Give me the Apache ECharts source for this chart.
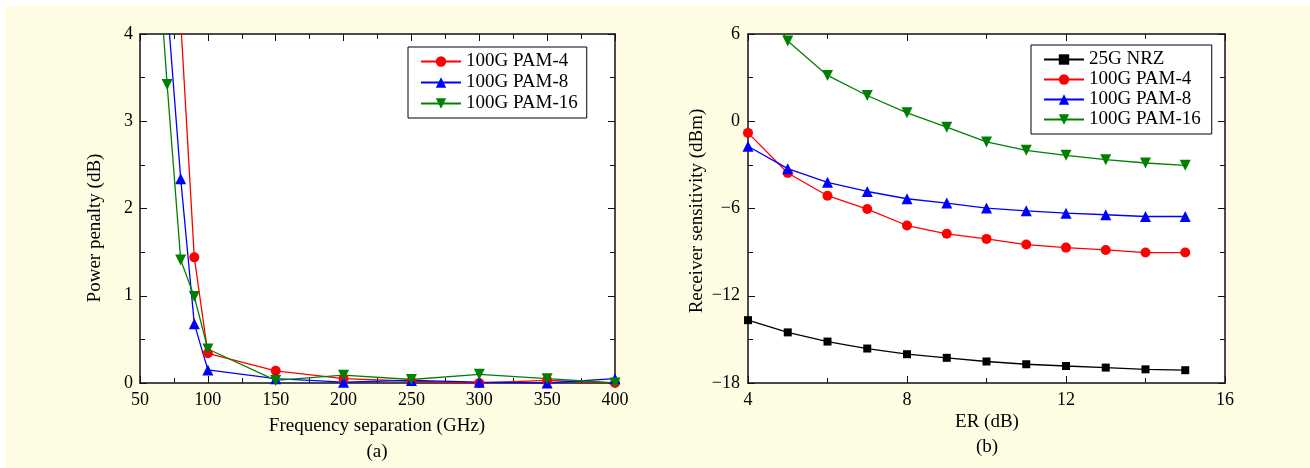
<!DOCTYPE html>
<html>
<head>
<meta charset="utf-8">
<script src="https://cdn.jsdelivr.net/npm/echarts@6/dist/echarts.min.js"></script>
<style>
  html, body { margin: 0; padding: 0; background: #fff; }
  #chart { width: 1310px; height: 468px; }
</style>
</head>
<body>
<div id="chart"></div>
<script>
// (a) power penalty vs frequency separation
const freqPam4 = [80, 90, 100, 150, 200, 250, 300, 350, 400];
const penaltyPam4 = [4.15, 1.44, 0.34, 0.14, 0.05, 0.02, 0.0, 0.03, 0.0];
const freqPam8 = [70, 80, 90, 100, 150, 200, 250, 300, 350, 400];
const penaltyPam8 = [4.35, 2.34, 0.68, 0.15, 0.05, 0.01, 0.03, 0.01, 0.0, 0.05];
const freqPam16 = [60, 70, 80, 90, 100, 150, 200, 250, 300, 350, 400];
const penaltyPam16 = [5.6, 3.42, 1.41, 0.99, 0.39, 0.03, 0.09, 0.04, 0.1, 0.05, 0.0];

// (b) receiver sensitivity vs ER
const erValues = [4, 5, 6, 7, 8, 9, 10, 11, 12, 13, 14, 15];
const sensNrz = [-13.68, -14.52, -15.15, -15.63, -16.02, -16.27, -16.52, -16.71, -16.83, -16.94, -17.06, -17.12];
const sensPam4 = [-0.8, -3.56, -5.12, -6.04, -7.17, -7.74, -8.09, -8.48, -8.69, -8.85, -9.03, -9.03];
const sensPam8 = [-1.72, -3.26, -4.2, -4.83, -5.33, -5.63, -5.97, -6.16, -6.32, -6.43, -6.55, -6.55];
const sensPam16 = [10.0, 5.52, 3.15, 1.77, 0.58, -0.41, -1.42, -2.0, -2.34, -2.64, -2.87, -3.03];

const legendA = ['100G PAM-4', '100G PAM-8', '100G PAM-16'];
const legendB = ['25G NRZ', '100G PAM-4', '100G PAM-8', '100G PAM-16'];

const FONT = "'Liberation Serif', 'Times New Roman', serif";
const zip = (xs, ys) => xs.map((x, i) => [x, ys[i]]);
const minus = v => (v < 0 ? '\u2212' + Math.abs(v) : String(v));

function mainAxis(gridIndex, position, min, max, interval, formatter, margin) {
  return {
    type: 'value', gridIndex, position, min, max, interval,
    axisLine: { show: true, onZero: false, lineStyle: { color: '#111', width: 1.5 } },
    axisTick: { show: true, inside: true, length: 7, lineStyle: { color: '#111' } },
    minorTick: { show: true, splitNumber: 2, length: 5, lineStyle: { color: '#111' } },
    splitLine: { show: false },
    axisLabel: { show: true, margin, color: '#000', fontFamily: FONT, fontSize: 18, formatter }
  };
}
function mirrorAxis(gridIndex, position, min, max, interval) {
  const a = mainAxis(gridIndex, position, min, max, interval, null, 8);
  a.axisLabel = { show: false };
  return a;
}

function line(name, data, color, symbol, size, xi, yi, rotate) {
  return {
    name, type: 'line', data, xAxisIndex: xi, yAxisIndex: yi,
    symbol, symbolSize: size, symbolRotate: rotate || 0, showAllSymbol: true,
    clip: true,
    lineStyle: { color, width: 1.3 },
    itemStyle: { color },
    emphasis: { disabled: true }
  };
}

const chart = echarts.init(document.getElementById('chart'));
chart.setOption({
  animation: false,
  backgroundColor: '#fff',
  grid: [
    { left: 140, top: 34, width: 475, height: 349, show: true, backgroundColor: '#fff', borderWidth: 0 },
    { left: 748, top: 34, width: 477, height: 349, show: true, backgroundColor: '#fff', borderWidth: 0 }
  ],
  xAxis: [
    mainAxis(0, 'bottom', 50, 400, 50, null, 8),
    mirrorAxis(0, 'top', 50, 400, 50),
    mainAxis(1, 'bottom', 4, 16, 4, null, 8),
    mirrorAxis(1, 'top', 4, 16, 4)
  ],
  yAxis: [
    mainAxis(0, 'left', 0, 4, 1, null, 7),
    mirrorAxis(0, 'right', 0, 4, 1),
    mainAxis(1, 'left', -18, 6, 6, minus, 8),
    mirrorAxis(1, 'right', -18, 6, 6)
  ],
  legend: [
    {
      data: legendA, left: 408, top: 47, orient: 'vertical',
      itemWidth: 40, itemHeight: 13, itemGap: 2,
      padding: [5, 9, 5, 12], borderColor: '#000', borderWidth: 1, backgroundColor: '#fff',
      selectedMode: false,
      textStyle: { fontFamily: FONT, fontSize: 19, color: '#000' }
    },
    {
      data: legendB, left: 1031, top: 45, orient: 'vertical',
      itemWidth: 40, itemHeight: 13, itemGap: 1,
      padding: [5, 11, 5, 12], borderColor: '#000', borderWidth: 1, backgroundColor: '#fff',
      selectedMode: false,
      textStyle: { fontFamily: FONT, fontSize: 19, color: '#000' }
    }
  ],
  graphic: [
    { type: 'rect', z: -10, silent: true, shape: { x: 5, y: 6, width: 1305, height: 462 }, style: { fill: '#FEFDE4' } },
    { type: 'text', x: 95, y: 228, rotation: Math.PI / 2, style: { text: 'Power penalty (dB)', font: '19px ' + FONT, fill: '#000', align: 'center', verticalAlign: 'middle' } },
    { type: 'text', x: 377, y: 426, style: { text: 'Frequency separation (GHz)', font: '19px ' + FONT, fill: '#000', align: 'center', verticalAlign: 'middle' } },
    { type: 'text', x: 377, y: 452, style: { text: '(a)', font: '19px ' + FONT, fill: '#000', align: 'center', verticalAlign: 'middle' } },
    { type: 'text', x: 697, y: 211, rotation: Math.PI / 2, style: { text: 'Receiver sensitivity (dBm)', font: '19px ' + FONT, fill: '#000', align: 'center', verticalAlign: 'middle' } },
    { type: 'text', x: 987, y: 422, style: { text: 'ER (dB)', font: '19px ' + FONT, fill: '#000', align: 'center', verticalAlign: 'middle' } },
    { type: 'text', x: 987, y: 447, style: { text: '(b)', font: '19px ' + FONT, fill: '#000', align: 'center', verticalAlign: 'middle' } }
  ],
  series: [
    line('100G PAM-4', zip(freqPam4, penaltyPam4), '#ff0000', 'circle', 10, 0, 0),
    line('100G PAM-8', zip(freqPam8, penaltyPam8), '#0000ff', 'triangle', 11, 0, 0),
    line('100G PAM-16', zip(freqPam16, penaltyPam16), '#008000', 'triangle', 11, 0, 0, 180),
    line('25G NRZ', zip(erValues, sensNrz), '#000000', 'rect', 8, 2, 2),
    line('100G PAM-4', zip(erValues, sensPam4), '#ff0000', 'circle', 10, 2, 2),
    line('100G PAM-8', zip(erValues, sensPam8), '#0000ff', 'triangle', 11, 2, 2),
    line('100G PAM-16', zip(erValues, sensPam16), '#008000', 'triangle', 11, 2, 2, 180)
  ]
});
</script>
</body>
</html>
